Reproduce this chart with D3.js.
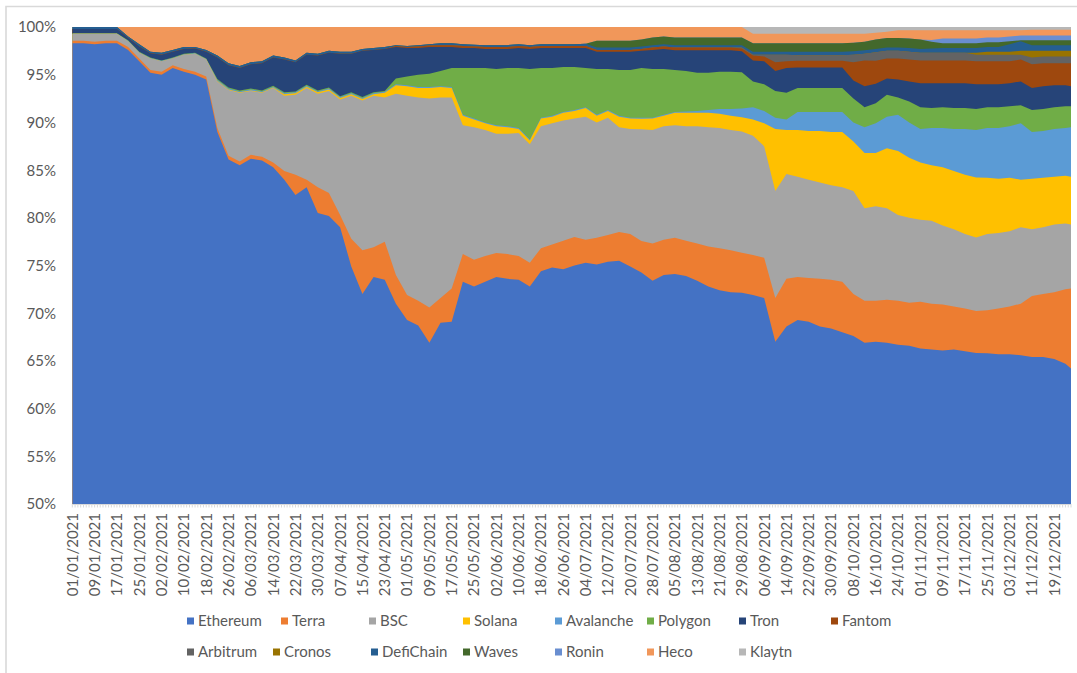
<!DOCTYPE html>
<html><head><meta charset="utf-8">
<script src="https://cdn.jsdelivr.net/npm/d3@7"></script>
<style>
html,body{margin:0;padding:0;background:#fff;}
svg{display:block;font-family:Lato,"Open Sans",sans-serif;}
</style></head><body>
<svg id="chart" width="1077" height="673"></svg>
<script>
// ---------- DATA (shares of DeFi TVL, %) ----------
const dates = [
"01/01/2021","05/01/2021","09/01/2021","13/01/2021","17/01/2021","21/01/2021","25/01/2021","29/01/2021",
"02/02/2021","06/02/2021","10/02/2021","14/02/2021","18/02/2021","22/02/2021","26/02/2021",
"02/03/2021","06/03/2021","10/03/2021","14/03/2021","18/03/2021","22/03/2021","26/03/2021","30/03/2021",
"03/04/2021","07/04/2021","11/04/2021","15/04/2021","19/04/2021","23/04/2021","27/04/2021",
"01/05/2021","05/05/2021","09/05/2021","13/05/2021","17/05/2021","21/05/2021","25/05/2021","29/05/2021",
"02/06/2021","06/06/2021","10/06/2021","14/06/2021","18/06/2021","22/06/2021","26/06/2021","30/06/2021",
"04/07/2021","08/07/2021","12/07/2021","16/07/2021","20/07/2021","24/07/2021","28/07/2021",
"01/08/2021","05/08/2021","09/08/2021","13/08/2021","17/08/2021","21/08/2021","25/08/2021","29/08/2021",
"02/09/2021","06/09/2021","10/09/2021","14/09/2021","18/09/2021","22/09/2021","26/09/2021","30/09/2021",
"04/10/2021","08/10/2021","12/10/2021","16/10/2021","20/10/2021","24/10/2021","28/10/2021",
"01/11/2021","05/11/2021","09/11/2021","13/11/2021","17/11/2021","21/11/2021","25/11/2021","29/11/2021",
"03/12/2021","07/12/2021","11/12/2021","15/12/2021","19/12/2021","23/12/2021","25/12/2021"];

const tickLabels = [
"01/01/2021","09/01/2021","17/01/2021","25/01/2021","02/02/2021","10/02/2021","18/02/2021","26/02/2021",
"06/03/2021","14/03/2021","22/03/2021","30/03/2021","07/04/2021","15/04/2021","23/04/2021","01/05/2021",
"09/05/2021","17/05/2021","25/05/2021","02/06/2021","10/06/2021","18/06/2021","26/06/2021","04/07/2021",
"12/07/2021","20/07/2021","28/07/2021","05/08/2021","13/08/2021","21/08/2021","29/08/2021","06/09/2021",
"14/09/2021","22/09/2021","30/09/2021","08/10/2021","16/10/2021","24/10/2021","01/11/2021","09/11/2021",
"17/11/2021","25/11/2021","03/12/2021","11/12/2021","19/12/2021"];

const yTicks = [0.5,0.55,0.6,0.65,0.7,0.75,0.8,0.85,0.9,0.95,1.0];

const ethereum = [98.3,98.3,98.2,98.3,98.2,
97.6,96.4,95.2,95.0,95.7,95.3,95.0,94.5,
89.0,86.1,85.5,86.2,86.0,85.3,84.0,82.4,
83.2,80.5,80.2,79.0,74.9,72.0,73.8,73.5,
71.0,69.3,68.7,66.9,69.0,69.1,73.3,
72.8,73.3,73.8,73.6,73.5,72.8,74.4,74.8,
74.6,75.0,75.3,75.1,75.4,75.5,74.9,74.2,
73.4,74.0,74.1,73.9,73.4,72.8,72.4,72.2,
72.1,71.9,71.6,67.0,68.6,69.3,69.1,68.6,
68.4,68.0,67.6,66.9,67.0,66.9,66.7,66.6,
66.3,66.2,66.1,66.2,66.0,65.9,65.8,65.7,
65.7,65.6,65.4,65.4,65.2,64.7,64.2];

const terra = [0.25,0.25,0.25,0.25,0.25,
0.3,0.3,0.3,0.3,0.3,0.3,0.3,0.3,
0.4,0.4,0.4,0.4,0.4,0.5,0.9,2.1,
0.8,2.7,2.4,1.3,2.9,4.6,3.1,4.0,
3.0,2.6,2.6,3.7,2.6,3.5,2.9,
2.8,2.7,2.5,2.6,2.5,2.5,2.4,2.4,
3.0,3.0,2.4,2.8,2.8,3.0,3.4,3.3,
3.9,3.7,3.8,3.7,3.9,4.2,4.4,4.4,
4.2,4.2,4.2,4.6,5.0,4.5,4.6,5.0,
5.1,5.3,4.4,4.4,4.3,4.5,4.6,4.5,
4.9,4.8,4.8,4.5,4.5,4.4,4.5,4.8,
5.0,5.4,6.4,6.6,7.0,7.8,8.4];

const bsc = [0.75,0.75,0.85,0.75,0.75,
0.6,0.6,1.2,1.1,0.7,1.5,1.9,1.8,
4.9,6.9,7.2,6.7,6.7,7.8,7.9,8.4,
9.6,9.8,10.7,12.1,15.0,15.7,15.9,15.1,
19.0,20.9,21.3,21.9,21.0,20.0,13.5,
13.9,13.2,12.5,12.6,12.9,12.4,12.8,12.7,
12.6,12.4,12.9,12.1,12.3,11.0,11.0,11.7,
11.9,11.9,11.8,12.0,12.3,12.5,12.6,12.6,
12.7,12.5,11.7,11.2,11.0,10.5,10.3,10.1,
9.9,9.9,10.8,9.7,9.9,9.6,9.0,8.9,
8.6,8.7,8.3,8.1,7.8,7.7,8.0,7.9,
7.9,8.0,7.0,7.0,7.1,6.9,6.7];

const solana = [0,0,0,0,0,0,0,0,0,0,0,0,0,
0.05,0.05,0.05,0.05,0.05,0.05,
0.15,0.15,0.15,0.15,0.15,0.15,0.15,0.15,0.15,
0.5,
0.9,1.0,1.0,1.1,1.1,1.0,1.0,
0.8,0.7,0.8,0.7,0.4,0.4,0.8,0.7,
0.8,0.8,0.9,0.7,0.7,1.1,1.1,1.1,
1.2,1.1,1.3,1.4,1.4,1.5,1.5,1.5,
1.5,1.7,2.4,6.5,4.6,4.9,5.1,5.4,
5.6,5.8,5.2,5.8,5.6,6.3,6.7,6.3,
6.0,5.8,6.1,6.1,6.2,6.3,5.9,5.7,
5.6,5.0,5.3,5.2,5.0,5.0,5.0];

const avalanche = [0,0,0,0,0,
0.05,0.05,0.05,0.05,0.05,0.05,0.05,0.05,
0.1,0.1,0.1,0.1,0.1,0.1,0.1,0.1,0.1,0.1,0.1,0.1,0.1,0.1,
0.1,0.1,0.1,0.1,0.1,0.1,0.1,0.1,0.1,0.1,0.1,0.1,0.1,0.1,
0.1,0.1,0.1,0.1,0.1,0.1,0.1,0.1,0.1,0.1,0.1,0.1,0.1,0.1,
0.15,0.2,0.3,0.5,0.7,
0.9,1.3,1.3,1.2,1.1,1.9,2.0,2.0,
2.1,2.1,2.0,2.7,3.1,3.3,3.8,3.7,
3.5,3.9,4.1,4.4,4.8,5.0,5.2,5.3,
5.4,5.9,4.9,4.9,5.0,5.0,5.2];

const polygon = [0.05,0.05,0.05,0.05,0.05,0.05,0.05,0.05,0.05,0.05,0.05,0.05,0.05,
0.1,0.1,0.1,0.1,0.1,0.1,0.1,0.1,0.1,0.1,0.1,0.1,0.1,0.1,0.1,0.1,
0.6,0.9,1.3,1.4,1.6,2.0,4.9,
5.3,5.7,5.9,6.1,6.3,7.4,5.2,5.0,
4.7,4.5,4.1,4.8,4.3,4.8,5.0,5.2,
5.1,4.8,4.4,4.25,4.0,3.9,3.9,3.9,
3.8,2.7,2.8,2.8,2.8,2.5,2.5,2.5,
2.5,2.5,2.5,2.1,2.1,2.3,1.8,2.2,
2.3,2.1,2.2,2.2,2.2,2.2,2.2,2.2,
2.1,1.9,2.3,2.3,2.3,2.3,2.2];

const tron = [0.45,0.45,0.45,0.45,0.45,
0.25,0.55,0.45,0.6,0.6,0.5,0.45,0.7,
2.25,2.35,2.35,2.55,2.85,2.95,3.45,3.05,
3.15,3.65,3.65,4.45,4.05,4.85,4.45,4.4,
3.3,3.0,2.8,2.8,2.5,2.2,2.1,
2.1,2.0,2.1,2.0,2.1,2.1,2.1,2.1,
2.0,2.0,2.1,1.8,1.8,1.9,1.9,1.8,
2.0,2.1,2.05,2.15,2.35,2.35,2.25,2.25,
2.2,2.2,2.4,2.1,2.6,2.15,2.15,2.15,
2.15,2.15,1.9,2.2,2.05,1.7,1.9,2.1,
2.5,2.6,2.5,2.6,2.6,2.6,2.4,2.4,
2.4,2.5,2.3,2.4,2.3,2.2,2.1];

const fantom = [0,0,0,0,0,0,0,0,0,0,0,0,0,0,0,0,0,0,0,0,0,0,0,0,0,0,0,0,0,
0.1,0.1,0.15,0.15,0.2,0.2,0.2,
0.15,0.2,0.2,0.2,0.2,0.2,0.2,0.2,
0.2,0.2,0.2,0.2,0.2,0.2,0.2,0.2,
0.25,0.25,0.3,0.3,0.3,0.3,0.3,0.3,
0.3,0.5,0.5,0.9,0.7,0.7,0.7,0.7,
0.7,0.7,1.9,2.7,2.4,2.1,2.2,2.3,
2.4,2.4,2.4,2.4,2.4,2.4,2.4,2.4,
2.3,2.3,2.5,2.4,2.3,2.3,2.4];

const arbitrum = [0,0,0,0,0,0,0,0,0,0,0,0,0,0,0,0,0,0,0,0,
0,0,0,0,0,0,0,0,0,0,0,0,0,0,0,0,0,0,0,0,
0,0,0,0,0,0,0,0,0,0,0,0,0,0,0,0,0,0,0,0,
0.1,0.1,0.2,0.8,0.7,0.6,0.6,0.6,
0.6,0.6,0.8,0.7,0.9,0.8,0.8,0.8,
0.8,0.8,0.8,0.8,0.8,0.7,0.7,0.7,
0.7,0.5,0.7,0.7,0.7,0.7,0.7];

const cronos = [0,0,0,0,0,0,0,0,0,0,0,0,0,0,0,0,0,0,0,0,
0,0,0,0,0,0,0,0,0,0,0,0,0,0,0,0,0,0,0,0,
0,0,0,0,0,0,0,0,0,0,0,0,0,0,0,0,0,0,0,0,
0,0,0,0,0,0,0,0,0,0,0,0,0,0,0,0,0,0,0,0,0,
0.2,0.3,0.3,
0.3,0.4,0.7,0.6,0.6,0.6,0.6];

const defichain = [0.2,0.2,0.2,0.2,0.2,
0.15,0.25,0.15,0.2,0.2,0.2,0.15,0.2,
0.2,0.2,0.2,0.2,0.2,0.2,0.2,0.2,0.2,0.2,0.2,0.2,0.2,0.2,0.2,0.2,
0.1,0.1,0.15,0.15,0.2,0.2,0.2,
0.2,0.2,0.2,0.2,0.2,0.2,0.2,0.2,
0.2,0.2,0.25,0.25,0.25,0.25,0.25,0.25,
0.25,0.25,0.25,0.25,0.25,0.25,0.25,0.25,
0.25,0.3,0.3,0.3,0.3,0.35,0.35,0.35,
0.35,0.35,0.35,0.35,0.35,0.35,0.35,0.4,
0.4,0.45,0.5,0.5,0.5,0.5,0.5,0.5,
0.8,1.0,0.6,0.6,0.6,0.6,0.6];

const waves = [0,0,0,0,0,0,0,0,0,0,0,0,0,0,0,0,0,0,0,0,
0,0,0,0,0,0,0,0,0,0,0,0,0,0,0,0,0,0,0,0,
0,0,0,0,0,0,0,
0.7,0.7,0.7,0.7,0.75,
0.8,0.8,0.8,0.8,0.8,0.8,0.8,0.8,
0.8,0.9,0.9,0.9,0.9,0.9,0.9,0.9,
0.9,0.9,0.9,0.9,1.0,1.0,1.0,1.0,
1.0,0.7,0.5,0.5,0.5,0.5,0.5,0.5,
0.3,0.1,0.5,0.5,0.5,0.5,0.5];

const ronin = [0,0,0,0,0,0,0,0,0,0,0,0,0,0,0,0,0,0,0,0,
0,0,0,0,0,0,0,0,0,0,0,0,0,0,0,0,0,0,0,0,
0,0,0,0,0,0,0,0,0,0,0,0,0,0,0,0,0,0,0,0,
0,0,0,0,0,0,0,0,0,0,0,0,0,0,0,0,0,
0.2,0.5,0.5,0.5,0.5,0.5,0.5,
0.5,0.5,0.5,0.5,0.5,0.5,0.5];

const heco = [0,0,0,0,0,
1.0,1.8,2.6,2.7,2.4,2.1,2.1,2.4,
3.0,3.8,4.1,3.7,3.6,3.0,3.2,3.5,
2.7,2.8,2.5,2.6,2.6,2.3,2.2,2.1,
1.9,2.0,1.9,1.8,1.7,1.7,1.8,
1.85,1.9,1.9,1.9,1.8,1.9,1.8,1.8,
1.8,1.8,1.75,1.45,1.45,1.45,1.45,1.3,
1.1,1.0,1.1,1.1,1.1,1.1,1.1,1.1,
1.1,1.0,1.0,1.0,1.0,1.0,1.0,1.0,
1.0,1.0,0.95,0.85,0.7,0.65,0.8,0.85,
0.95,1.0,0.85,0.85,0.85,0.85,0.75,0.75,
0.65,0.55,0.6,0.6,0.6,0.6,0.6];

const klaytn = [0,0,0,0,0,0,0,0,0,0,0,0,0,0,0,0,0,0,0,0,
0,0,0,0,0,0,0,0,0,0,0,0,0,0,0,0,0,0,0,0,
0,0,0,0,0,0,0,0,0,0,0,0,0,0,0,0,0,0,0,0,0,
0.7,0.7,0.7,0.7,0.7,0.7,0.7,
0.7,0.7,0.7,0.7,0.6,0.5,0.35,0.35,
0.35,0.35,0.35,0.35,0.35,0.35,0.35,0.35,
0.35,0.35,0.3,0.3,0.3,0.3,0.3];

const seriesNames = ["Ethereum","Terra","BSC","Solana","Avalanche","Polygon","Tron","Fantom",
  "Arbitrum","Cronos","DefiChain","Waves","Ronin","Heco","Klaytn"];
const seriesData = [ethereum,terra,bsc,solana,avalanche,polygon,tron,fantom,
  arbitrum,cronos,defichain,waves,ronin,heco,klaytn];
const colors = ["#4472C4","#ED7D31","#A5A5A5","#FFC000","#5B9BD5","#70AD47","#264478","#9E480E",
  "#636363","#997300","#255E91","#43682B","#698ED0","#F1975A","#B7B7B7"];

// ---------- CHART ----------
const parse = d3.utcParse("%d/%m/%Y");
const rows = dates.map((d, i) => {
  const r = {date: parse(d)};
  seriesNames.forEach((k, j) => r[k] = seriesData[j][i]);
  return r;
});

const L = 72.3, R = 1071, T = 27, B = 504;
const svg = d3.select("#chart");
const textColor = "#595959";

// outer frame
svg.append("path").attr("d", "M6,673V6.5H1077").attr("fill","none")
  .attr("stroke","#d9d9d9").attr("stroke-width",1.6);

const x = d3.scaleUtc().domain([rows[0].date, rows[rows.length-1].date]).range([L, R]);
const y = d3.scaleLinear().domain([0.5, 1]).range([B, T]);

const layers = d3.stack().keys(seriesNames).order(d3.stackOrderNone)
  .offset(d3.stackOffsetExpand)(rows);

svg.append("defs").append("clipPath").attr("id","plotclip")
  .append("rect").attr("x", L).attr("y", T).attr("width", R - L).attr("height", B - T);

const area = d3.area().curve(d3.curveLinear)
  .x(d => x(d.data.date)).y0(B + 5).y1(d => y(d[1]));

const gA = svg.append("g").attr("clip-path","url(#plotclip)");
// paint from top series downwards so bands have no seams
gA.selectAll("path").data(layers.slice().reverse()).join("path")
  .attr("fill", d => colors[d.index]).attr("d", area);

// x axis line with daily ticks
const gx = svg.append("g");
gx.append("line").attr("x1", L).attr("x2", R).attr("y1", B + 0.5).attr("y2", B + 0.5)
  .attr("stroke", "#d9d9d9").attr("stroke-width", 1);
gx.selectAll("line.t").data(d3.utcDay.range(rows[0].date, d3.utcDay.offset(rows[rows.length-1].date, 1)))
  .join("line").attr("class","t")
  .attr("x1", d => x(d)).attr("x2", d => x(d)).attr("y1", B).attr("y2", B + 3.5)
  .attr("stroke", "#d9d9d9").attr("stroke-width", 1);

// x tick labels
gx.selectAll("text").data(tickLabels).join("text")
  .attr("transform", d => `translate(${x(parse(d))},${B + 9}) rotate(-90)`)
  .attr("text-anchor","end").attr("dy","0.36em")
  .attr("font-size", 15).attr("fill", textColor).text(d => d);

// y tick labels
const fmt = d3.format(".0%");
svg.append("g").selectAll("text").data(yTicks).join("text")
  .attr("x", 56).attr("y", d => y(d)).attr("dy","0.36em")
  .attr("text-anchor","end").attr("font-size", 15).attr("fill", textColor)
  .text(d => fmt(d));

// legend
const legendRows = [
  {y: 621, cols: [187,281,369,463,555,647,739,831], start: 0},
  {y: 652, cols: [187,273,371,463,555,647,739], start: 8}
];
const gL = svg.append("g");
legendRows.forEach(row => {
  row.cols.forEach((cx, j) => {
    const idx = row.start + j;
    gL.append("rect").attr("x", cx).attr("y", row.y - 3.5).attr("width", 7).attr("height", 7)
      .attr("fill", colors[idx]);
    gL.append("text").attr("x", cx + 11).attr("y", row.y).attr("dy","0.36em")
      .attr("font-size", 15).attr("fill", textColor).text(seriesNames[idx]);
  });
});
</script>
</body></html>
